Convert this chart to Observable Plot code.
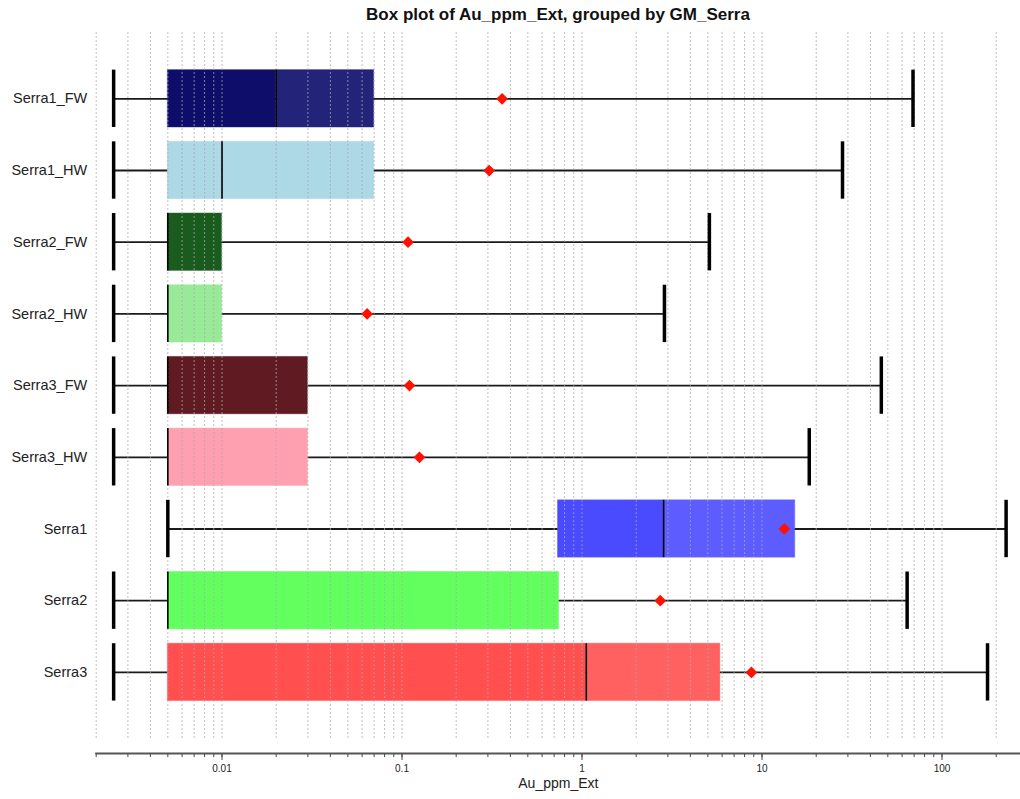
<!DOCTYPE html>
<html>
<head>
<meta charset="utf-8">
<script src="https://cdn.jsdelivr.net/npm/d3@7"></script>
<script src="https://cdn.jsdelivr.net/npm/@observablehq/plot@0.6"></script>
<style>
  body { margin: 0; background: #fff; }
  #title { height: 28px; padding-left: 96px; text-align: center; width: 924px;
           font: bold 17px "Liberation Sans", Arial, sans-serif; line-height: 30px; color: #111; }
  #chart { line-height: 0; }
</style>
</head>
<body>
<div id="title">Box plot of Au_ppm_Ext, grouped by GM_Serra</div>
<div id="chart"></div>
<script>
const categories = ["Serra1_FW","Serra1_HW","Serra2_FW","Serra2_HW","Serra3_FW","Serra3_HW","Serra1","Serra2","Serra3"];
const whiskerLow  = [0.0025, 0.0025, 0.0025, 0.0025, 0.0025, 0.0025, 0.005, 0.0025, 0.0025];
const q1          = [0.005, 0.005, 0.005, 0.005, 0.005, 0.005, 0.735, 0.005, 0.005];
const median      = [0.02, 0.01, 0.005, 0.005, 0.005, 0.005, 2.84, 0.005, 1.056];
const q3          = [0.07, 0.07, 0.01, 0.01, 0.03, 0.03, 15.3, 0.745, 5.87];
const whiskerHigh = [69, 28, 5.1, 2.87, 46, 18.3, 227, 64, 179];
const means       = [0.36, 0.305, 0.108, 0.064, 0.11, 0.125, 13.3, 2.72, 8.73];
const colorLow    = ["#0e0e6a","#add8e6","#1a5c1e","#98ea98","#5f1a22","#ffa0b0","#4a4aff","#62ff5e","#ff4f4f"];
const colorHigh   = ["#23237a","#add8e6","#1a5c1e","#98ea98","#5f1a22","#ffa0b0","#5d5dff","#62ff5e","#ff6060"];
const majorTicks  = [0.01, 0.1, 1, 10, 100];

const rows = categories.map((c, i) => ({
  cat: c, lo: whiskerLow[i], q1: q1[i], med: median[i], q3: q3[i], hi: whiskerHigh[i],
  mean: means[i], cLow: colorLow[i], cHigh: colorHigh[i]
}));

const narrow = "'Liberation Sans Narrow', 'Liberation Sans', Arial, sans-serif";

const chart = Plot.plot({
  width: 1020,
  height: 771,
  marginLeft: 95.7,
  marginRight: 0,
  marginTop: 0,
  marginBottom: 46,
  style: { fontFamily: "'Liberation Sans', Arial, sans-serif", background: "#fff", color: "#222" },
  x: { type: "log", domain: [0.002, 272.9] },
  y: { type: "band", domain: categories, range: [27.3, 686.9], padding: 0.2, round: false },
  marks: [
    Plot.ruleY(rows, { y: "cat", x1: "lo", x2: "hi", stroke: "#1a1a1a", strokeWidth: 1.8 }),
    Plot.barX(rows, { y: "cat", x1: "q1", x2: "med", fill: "cLow" }),
    Plot.barX(rows, { y: "cat", x1: "med", x2: "q3", fill: "cHigh" }),
    Plot.barX(rows, { y: "cat", x1: "q1", x2: "q3", fill: "none", stroke: "cHigh", strokeOpacity: 0.45, strokeWidth: 1 }),
    Plot.gridX({ stroke: "#aaa", strokeOpacity: 0.75, strokeDasharray: "2,2", strokeWidth: 1, insetTop: 4, insetBottom: 13 }),
    Plot.tickX(rows, { y: "cat", x: "med", stroke: "#000", strokeWidth: 1.6 }),
    Plot.tickX(rows, { y: "cat", x: "lo", stroke: "#000", strokeWidth: 3.5 }),
    Plot.tickX(rows, { y: "cat", x: "hi", stroke: "#000", strokeWidth: 3.5 }),
    Plot.dot(rows, { y: "cat", x: "mean", symbol: "diamond2", r: 5.3, fill: "#ff1100", stroke: "none" }),
    Plot.axisY({ tickSize: 0, tickPadding: 9, fontSize: 14.5, label: null }),
    Plot.axisX({ tickSize: 4, tickFormat: () => "", label: null, stroke: "#444" }),
    Plot.axisX(majorTicks, { tickSize: 7, tickPadding: 4, fontSize: 10, tickFormat: d => String(d), label: null, stroke: "#444", fontFamily: narrow }),
    Plot.frame({ anchor: "bottom", stroke: "#555", strokeWidth: 2 }),
    Plot.text(["Au_ppm_Ext"], { frameAnchor: "bottom", dy: 34, fontSize: 14, fill: "#222", fontFamily: narrow })
  ]
});
document.getElementById("chart").appendChild(chart);
</script>
</body>
</html>
